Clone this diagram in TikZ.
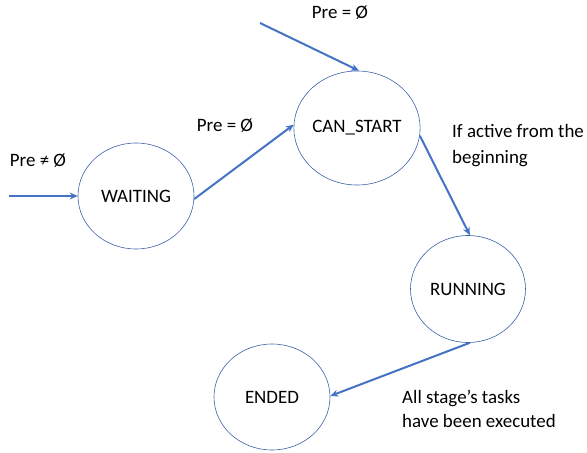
\documentclass[tikz,border=0pt]{standalone}
\usepackage{fontspec}
\setmainfont{Carlito}
\usetikzlibrary{shapes.geometric,arrows.meta}
\definecolor{edgeblue}{HTML}{4472C4}
\begin{document}
\begin{tikzpicture}[x=1bp,y=-1bp,
  state/.style={draw=edgeblue!85!black,line width=0.6bp,ellipse,inner sep=0pt,
    minimum width=116bp,minimum height=106bp,font=\fontsize{19}{22}\selectfont},
  trans/.style={draw=edgeblue,line width=2bp,-{Stealth[length=8bp,width=7bp]}},
  lbl/.style={font=\fontsize{19}{25}\selectfont,inner sep=0pt}]
  \useasboundingbox (0,0) rectangle (587,453);
  % states
  \node[state] (w) at (136,196) {WAITING};
  \node[state,minimum width=114bp,minimum height=114bp] (c) at (357,128) {CAN\_START};
  \node[state,minimum width=115bp,minimum height=107bp] (r) at (468,289) {RUNNING};
  \node[state] (e) at (272,397) {ENDED};
  % free ends of the entry arrows
  \coordinate (in1) at (9,196);
  \coordinate (in2) at (260,23);
  % transitions
  \draw[trans] (in1) -- (w.west);
  \draw[trans] (w.-3) -- (c.177);
  \draw[trans] (in2) -- (c.88);
  \draw[trans] (c.-7) -- (r.88);
  \draw[trans] (r.-88) -- (e.1);
  % labels
  \node[lbl] (l1) at (38,161) {Pre ≠ Ø};
  \node[lbl] (l2) at (225,126) {Pre = Ø};
  \node[lbl] (l3) at (340,13) {Pre = Ø};
  \node[lbl,anchor=north west,align=left,font=\fontsize{19}{26}\selectfont] (l4) at (452,124) {If active from the\\beginning};
  \node[lbl,anchor=north west,align=left,font=\fontsize{19}{24}\selectfont] (l5) at (402,390) {All stage’s tasks\\have been executed};
\end{tikzpicture}
\end{document}
